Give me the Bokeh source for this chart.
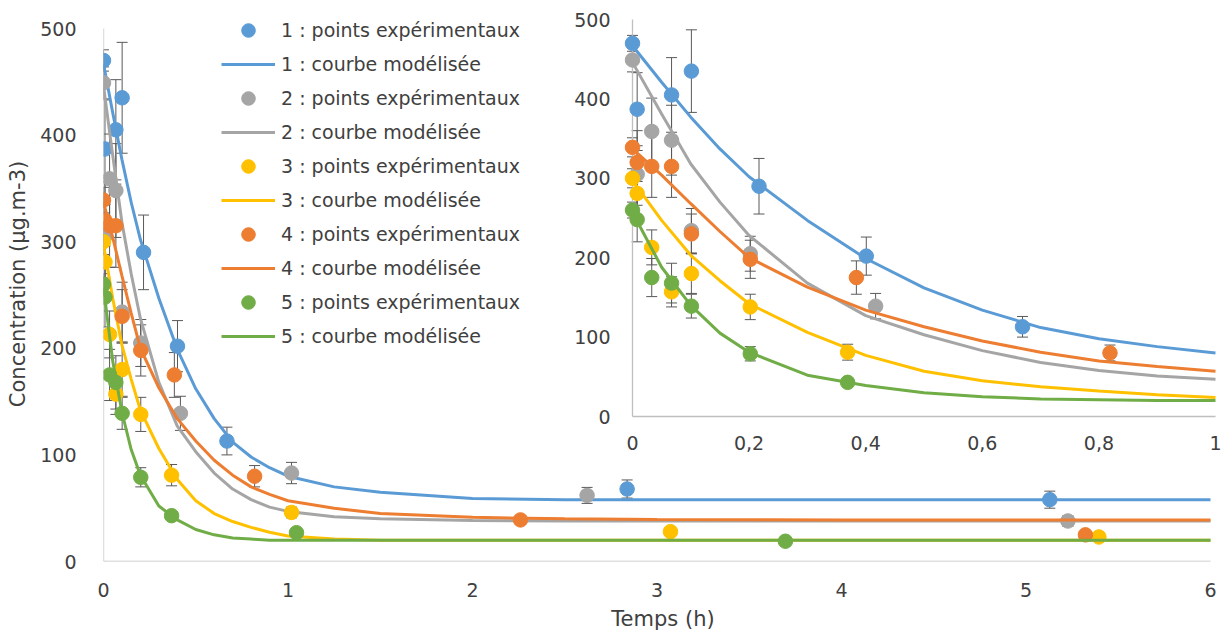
import math
from bokeh.plotting import figure
from bokeh.models import (Range1d, FixedTicker, Whisker, TeeHead, ColumnDataSource,
                          Legend, LegendItem)
from bokeh.embed import file_html
from bokeh.resources import INLINE
from bokeh.core.properties import value

# ---------------- data ----------------
series_names = ["1", "2", "3", "4", "5"]
colors = ["#5B9BD5", "#A5A5A5", "#FFC000", "#ED7D31", "#70AD47"]

# experimental points: time (h), concentration (µg.m-3), error
t_exp_1 = [0, 0.008, 0.067, 0.101, 0.217, 0.401, 0.669, 2.838, 5.129]
c_exp_1 = [470, 387, 405, 435, 290, 202, 113, 68, 58]
e_exp_1 = [10, 46, 47, 52, 35, 24, 13, 8.5, 8]

t_exp_2 = [0, 0.008, 0.033, 0.067, 0.101, 0.202, 0.417, 1.019, 2.621, 5.227]
c_exp_2 = [449, 305, 359, 348, 234, 205, 139, 83, 62, 38]
e_exp_2 = [15, 55, 42, 44, 28, 22, 16, 10, 7.5, 5]

t_exp_3 = [0, 0.008, 0.033, 0.067, 0.101, 0.202, 0.369, 1.019, 3.073, 5.395]
c_exp_3 = [300, 281, 213, 157, 180, 138, 81, 46, 28, 23]
e_exp_3 = [12, 15, 22, 19, 25, 16, 10, 5, 2, 2]

t_exp_4 = [0, 0.008, 0.033, 0.067, 0.101, 0.202, 0.384, 0.819, 2.26, 5.322]
c_exp_4 = [339, 320, 315, 315, 230, 198, 175, 80, 39, 25]
e_exp_4 = [12, 15, 39, 39, 25, 24, 21, 10, 3, 2]

t_exp_5 = [0, 0.008, 0.033, 0.067, 0.101, 0.202, 0.369, 1.046, 3.696]
c_exp_5 = [260, 248, 175, 168, 139, 79, 43, 27, 19]
e_exp_5 = [10, 28, 24, 25, 15, 9, 3, 2, 1]

# modelled curves
t_model = [0, 0.05, 0.1, 0.15, 0.2, 0.3, 0.4, 0.5, 0.6, 0.7, 0.8, 0.9, 1.0,
           1.25, 1.5, 2, 2.5, 3, 4, 5, 6]
c_model_1 = [467, 421, 377, 337, 302, 247, 199, 162, 134, 112, 98, 88, 80,
             70, 65, 59, 58, 58, 58, 58, 58]
c_model_2 = [446, 381, 318, 270, 228, 168, 127, 103, 83, 68, 58, 51, 47,
             42, 40, 38.5, 38, 38, 38, 38, 38]
c_model_3 = [297, 247, 203, 171, 142, 106, 77, 57, 45, 37.5, 32, 27.5, 24,
             21, 20, 20, 20, 20, 20, 20, 20]
c_model_4 = [337, 304, 268, 233, 200, 163, 134, 113, 95, 81, 70, 63, 57,
             50, 45, 41.5, 40, 39.5, 39, 39, 39]
c_model_5 = [257, 188, 140, 105, 81, 52, 39, 30, 25, 22, 21, 20, 20,
             20, 20, 20, 20, 20, 20, 20, 20]

# axes
main_x_ticks = [0, 1, 2, 3, 4, 5, 6]
main_y_ticks = [0, 100, 200, 300, 400, 500]
inset_x_ticks = [0, 0.2, 0.4, 0.6, 0.8, 1]
inset_x_labels = ["0", "0,2", "0,4", "0,6", "0,8", "1"]
inset_y_ticks = [0, 100, 200, 300, 400, 500]
inset_y_labels = ["0", "100", "200", "300", "400", "500"]
x_title = "Temps (h)"
y_title = "Concentration (µg.m-3)"
legend_points = " : points expérimentaux"
legend_curve = " : courbe modélisée"

t_exp = [t_exp_1, t_exp_2, t_exp_3, t_exp_4, t_exp_5]
c_exp = [c_exp_1, c_exp_2, c_exp_3, c_exp_4, c_exp_5]
e_exp = [e_exp_1, e_exp_2, e_exp_3, e_exp_4, e_exp_5]
c_model = [c_model_1, c_model_2, c_model_3, c_model_4, c_model_5]

# ---------------- layout (pixels) ----------------
W, H = 1230, 637
FL, FR, FT, FB = 103, 1222, 6, 561          # plot frame edges
MX0, MX1, MY0, MY1 = 103, 1210, 561, 28     # main: x 0..6, y 0..500 positions
IX0, IX1, IY0, IY1 = 632, 1215, 416, 19     # inset: x 0..1, y 0..500 positions

def rng(p0, p1, v0, v1, lo, hi):
    s = (v1 - v0) / (p1 - p0)
    return Range1d(v0 + (lo - p0) * s, v0 + (hi - p0) * s)

xr = rng(MX0, MX1, 0, main_x_ticks[-1], FL, FR)
yr = rng(MY0, MY1, 0, main_y_ticks[-1], FB, FT)

FONT = "DejaVu Sans"
FS = "19px"
FS_TITLE = "21px"
TXT = "#404040"
AXC = "#BFBFBF"
ERRC = "#595959"

p = figure(width=W, height=H, x_range=xr, y_range=yr, output_backend="svg",
           toolbar_location=None, min_border_left=FL, min_border_right=W - FR,
           min_border_top=FT, min_border_bottom=H - FB)
p.extra_x_ranges = {"ix": rng(IX0, IX1, 0, inset_x_ticks[-1], FL, FR)}
p.extra_y_ranges = {"iy": rng(IY0, IY1, 0, inset_y_ticks[-1], FB, FT)}
p.outline_line_color = None
p.grid.visible = False
p.background_fill_color = "white"
p.border_fill_color = "white"

for ax, ticks in ((p.xaxis[0], main_x_ticks), (p.yaxis[0], main_y_ticks)):
    ax.ticker = FixedTicker(ticks=ticks)
    ax.axis_line_color = None
    ax.major_tick_line_color = None
    ax.minor_tick_line_color = None
    ax.major_label_text_font = FONT
    ax.major_label_text_font_size = FS
    ax.major_label_text_color = TXT
    ax.axis_label_text_font = FONT
    ax.axis_label_text_font_size = FS_TITLE
    ax.axis_label_text_color = TXT
    ax.axis_label_text_font_style = "normal"
p.xaxis.major_label_standoff = 15
p.yaxis.major_label_standoff = 21
p.xaxis.axis_label = x_title
p.yaxis.axis_label = y_title
p.xaxis.axis_label_standoff = 7
p.yaxis.axis_label_standoff = 7

# main axis lines
p.segment(x0=[0, 0], y0=[0, 0], x1=[main_x_ticks[-1], 0], y1=[0, main_y_ticks[-1]],
          line_color=AXC, line_width=1.3)
# inset axis lines
p.segment(x0=[0, 0], y0=[0, 0], x1=[inset_x_ticks[-1], 0], y1=[0, inset_y_ticks[-1]],
          line_color=AXC, line_width=1.3, x_range_name="ix", y_range_name="iy")
# inset tick labels
p.text(x=inset_x_ticks, y=[0] * len(inset_x_ticks), text=inset_x_labels,
       x_range_name="ix", y_range_name="iy", text_font=value(FONT),
       text_font_size=value(FS), text_color=TXT, text_align="center",
       text_baseline="middle", y_offset=26)
p.text(x=[0] * len(inset_y_ticks), y=inset_y_ticks, text=inset_y_labels,
       x_range_name="ix", y_range_name="iy", text_font=value(FONT),
       text_font_size=value(FS), text_color=TXT, text_align="right",
       text_baseline="middle", x_offset=-22)

items = []
for i in range(5):
    col = colors[i]
    lo = [c - e for c, e in zip(c_exp[i], e_exp[i])]
    hi = [c + e for c, e in zip(c_exp[i], e_exp[i])]
    src = ColumnDataSource(dict(t=t_exp[i], c=c_exp[i], lo=lo, hi=hi))
    keep = [k for k, t in enumerate(t_exp[i]) if t <= inset_x_ticks[-1]]
    isrc = ColumnDataSource(dict(t=[t_exp[i][k] for k in keep], c=[c_exp[i][k] for k in keep],
                                 lo=[lo[k] for k in keep], hi=[hi[k] for k in keep]))
    for s, kw in ((src, {}), (isrc, dict(x_range_name="ix", y_range_name="iy"))):
        w = Whisker(source=s, base="t", lower="lo", upper="hi", line_color=ERRC,
                    line_width=1,
                    upper_head=TeeHead(size=11, line_color=ERRC, line_width=1),
                    lower_head=TeeHead(size=11, line_color=ERRC, line_width=1), **kw)
        p.add_layout(w)
    # points
    r_pts = p.scatter("t", "c", source=src, size=14.5, marker="circle",
                      fill_color=col, line_color=col)
    p.scatter("t", "c", source=isrc, size=14.5, marker="circle",
              fill_color=col, line_color=col, x_range_name="ix", y_range_name="iy")
    # curves
    r_line = p.line(t_model, c_model[i], line_color=col, line_width=3)
    ik = [k for k, t in enumerate(t_model) if t <= inset_x_ticks[-1]]
    p.line([t_model[k] for k in ik], [c_model[i][k] for k in ik], line_color=col,
           line_width=3, x_range_name="ix", y_range_name="iy")
    items.append(LegendItem(label=series_names[i] + legend_points, renderers=[r_pts]))
    items.append(LegendItem(label=series_names[i] + legend_curve, renderers=[r_line]))

leg = Legend(items=items, location=(118, 208), glyph_width=54, glyph_height=34,
             label_height=34, label_standoff=6, spacing=0, padding=0, margin=0,
             border_line_color=None, background_fill_alpha=0,
             label_text_font=FONT, label_text_font_size=FS, label_text_color=TXT)
p.add_layout(leg)

open("out.html", "w").write(file_html(p, INLINE))
